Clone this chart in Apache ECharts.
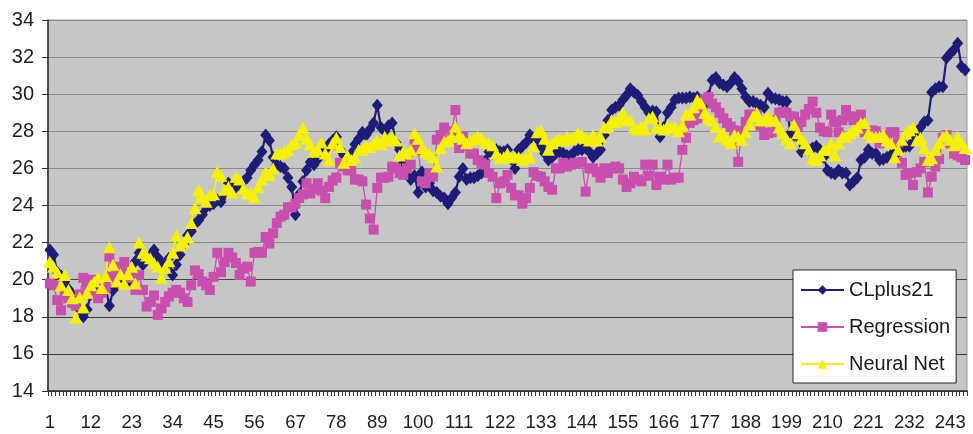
<!DOCTYPE html>
<html>
<head>
<meta charset="utf-8">
<style>
  html, body { margin: 0; padding: 0; background: #ffffff; }
  #chart { width: 973px; height: 434px; }
</style>
<script src="https://cdn.jsdelivr.net/npm/echarts@6/dist/echarts.min.js"></script>
</head>
<body>
<div id="chart"></div>
<script>
// Observation index 1..247 on the category axis
const pointCount = 247;
const categories = Array.from({ length: pointCount }, (_, k) => String(k + 1));

const seriesNames = ['CLplus21', 'Regression', 'Neural Net'];

const clplus21 = [
  21.6, 21.35, 20.4, 20.2, 19.9, 19.5, 19.2, 18.8, 18.4, 18.0,
  18.4, 19.2, 19.4, 19.6, 19.8, 19.6, 18.6, 19.45, 19.7, 20.0,
  20.1, 19.9, 20.4, 21.0, 21.45, 20.8, 21.1, 21.3, 21.6, 21.2,
  20.95, 20.7, 21.15, 20.25, 20.8, 21.35, 21.9, 22.4, 22.6, 23.0,
  23.2, 23.5, 23.9, 24.0, 24.1, 24.3, 24.2, 24.6, 25.2, 24.9,
  25.0, 25.1, 25.3, 25.5, 25.9, 26.2, 26.45, 26.9, 27.8, 27.5,
  26.6, 26.2, 26.1, 26.0, 25.5, 25.0, 23.5, 24.6, 25.3, 25.9,
  26.35, 26.2, 26.5, 26.9, 27.0, 27.3, 27.5, 27.7, 27.0, 26.7,
  26.6, 26.8, 27.3, 27.6, 27.95, 27.8, 28.1, 28.45, 29.4, 28.2,
  28.0, 28.3, 28.45, 27.4, 27.0, 26.3, 25.8, 25.4, 25.6, 24.7,
  25.8, 25.0, 25.2, 24.8, 24.7, 24.5, 24.4, 24.1, 24.4, 24.7,
  25.55, 26.0, 25.4, 25.5, 25.5, 25.6, 25.75, 26.4, 26.9, 26.8,
  27.0, 26.9, 26.9, 27.0, 26.5, 26.0, 27.0, 27.2, 27.4, 27.8,
  27.6, 27.6, 27.2, 26.8, 26.45, 26.6, 26.8, 26.9, 26.8, 26.7,
  26.7, 26.9, 27.0, 27.0, 27.1, 26.9, 26.6, 26.8, 27.0, 27.8,
  28.6, 29.15, 29.3, 29.4, 29.7, 29.95, 30.3, 30.1, 29.95, 29.6,
  29.3, 29.0, 29.1, 29.05, 27.7, 28.2, 29.0, 29.3, 29.7, 29.8,
  29.8, 29.8, 29.85, 29.8, 29.85, 29.5, 29.4, 29.9, 30.75, 30.9,
  30.6, 30.5, 30.4, 30.6, 30.9, 30.7, 30.3, 29.85, 29.6, 29.6,
  29.5, 29.4, 29.3, 30.05, 29.8, 29.75, 29.7, 29.6, 29.6, 27.9,
  27.8, 27.7, 26.9, 27.0, 27.0, 27.1, 27.2, 27.0, 26.6, 25.9,
  25.75, 25.7, 25.9, 25.75, 25.75, 25.1, 25.3, 25.5, 26.45, 26.6,
  27.0, 26.8, 26.8, 26.45, 26.5, 26.6, 26.7, 26.8, 26.9, 27.1,
  27.2, 27.2, 27.45, 27.9, 28.2, 28.5, 28.6, 30.1, 30.3, 30.4,
  30.4, 31.95, 32.2, 32.4, 32.75, 31.5, 31.3
];

const regression = [
  19.8, 19.7, 18.9, 18.35, 19.2, 19.0, 18.75, 18.6, 19.2, 20.1,
  19.7, 20.0, 19.2, 19.0, 19.3, 19.6, 21.25, 20.15, 20.7, 20.6,
  20.95, 20.3, 20.1, 19.45, 20.25, 19.45, 18.55, 18.8, 19.15, 18.1,
  18.45, 18.8, 19.1, 19.3, 19.45, 19.3, 19.0, 18.8, 19.7, 20.5,
  20.3, 19.9, 19.7, 19.45, 20.15, 21.45, 20.4, 20.95, 21.45, 21.2,
  20.9, 20.25, 20.6, 20.7, 19.9, 21.45, 21.5, 21.45, 22.3, 21.95,
  22.5, 23.05, 23.4, 23.5, 23.9, 23.9, 24.1, 24.4, 24.6, 25.2,
  24.65, 24.9, 25.2, 24.8, 24.4, 25.0, 25.35, 25.5, 26.3, 26.1,
  25.9, 25.9, 25.4, 25.4, 25.3, 24.05, 23.3, 22.7, 24.95, 25.5,
  25.5, 25.55, 26.1, 26.0, 25.75, 25.65, 26.0, 26.2, 27.4, 27.0,
  25.3, 25.2, 25.75, 25.55, 27.55, 27.8, 28.2, 27.5, 28.0, 29.15,
  27.1, 27.7, 27.2, 26.8, 26.8, 26.45, 26.3, 26.2, 25.75, 25.55,
  24.4, 25.2, 25.3, 25.65, 24.95, 24.55, 24.55, 24.1, 24.4, 24.95,
  25.8, 25.6, 25.55, 25.3, 25.0, 24.85, 26.0, 26.0, 26.3, 26.1,
  26.2, 26.3, 26.3, 26.35, 24.75, 26.0, 26.0, 25.8, 25.5, 26.0,
  25.75, 26.0, 26.1, 26.0, 25.4, 25.0, 25.2, 25.55, 25.4, 25.3,
  26.2, 25.6, 26.2, 25.1, 25.55, 25.4, 26.2, 25.4, 25.5, 25.5,
  27.0, 27.65, 28.45, 28.6, 28.7, 29.2, 29.7, 29.85, 29.5, 29.3,
  29.0, 28.7, 28.45, 28.25, 28.05, 26.35, 28.0, 28.5, 28.9, 28.9,
  28.9, 28.3, 27.8, 27.9, 27.95, 28.6, 29.0, 29.05, 29.0, 28.8,
  28.8, 28.25, 28.5, 28.9, 29.2, 29.6, 29.0, 28.2, 28.0, 27.95,
  28.9, 28.5, 27.95, 28.6, 29.15, 28.8, 28.6, 28.8, 28.9, 27.95,
  27.9, 28.05, 28.0, 27.35, 27.6, 27.7, 27.95, 27.95, 27.4, 26.3,
  25.65, 25.75, 25.1, 25.8, 26.0, 26.35, 24.7, 25.55, 26.1, 26.5,
  27.65, 27.8, 27.35, 26.8, 26.7, 26.6, 26.45
];

const neuralNet = [
  20.95, 20.7, 20.4, 19.7, 20.25, 19.45, 19.0, 17.95, 19.05, 18.5,
  19.3, 19.7, 19.9, 20.1, 19.55, 20.2, 21.75, 20.8, 19.9, 20.3,
  19.8, 20.3, 20.7, 19.8, 22.0, 21.45, 21.3, 21.15, 20.9, 20.7,
  20.1, 20.65, 21.0, 21.45, 22.4, 21.85, 22.0, 22.3, 23.05, 23.85,
  24.85, 24.45, 24.2, 24.55, 24.6, 25.8, 25.6, 24.85, 25.0, 24.7,
  25.55, 25.4, 24.9, 24.65, 24.7, 24.45, 25.0, 25.4, 25.8, 25.65,
  26.0, 26.8, 26.8, 26.9, 27.0, 27.3, 27.4, 27.8, 28.2, 27.6,
  27.3, 26.9, 27.0, 27.4, 26.8, 26.45, 27.35, 27.65, 27.15, 26.3,
  26.7, 26.45, 26.6, 27.0, 27.0, 27.25, 27.15, 27.35, 27.5, 27.3,
  27.7, 27.5, 27.7, 27.5, 26.7, 26.9, 26.8, 27.0, 27.9, 27.6,
  27.1, 26.9, 26.8, 26.6, 26.1, 27.1, 27.45, 27.5, 27.7, 28.25,
  27.8, 27.6, 27.35, 27.5, 27.6, 27.7, 27.65, 27.4, 27.35, 27.25,
  26.8, 26.55, 26.6, 26.8, 26.6, 26.6, 26.6, 26.45, 26.6, 26.6,
  27.2, 27.95, 28.05, 27.6, 27.0, 27.35, 27.5, 27.6, 27.5, 27.7,
  27.6, 27.7, 27.9, 27.8, 27.65, 27.5, 27.8, 27.5, 27.7, 28.2,
  28.25, 28.6, 28.5, 28.7, 29.0, 28.6, 28.6, 28.2, 28.1, 28.25,
  28.1, 28.7, 28.8, 28.2, 28.2, 28.1, 28.3, 28.2, 28.25, 28.0,
  28.3, 28.9, 28.9, 29.3, 29.7, 29.5, 29.0, 28.7, 28.6, 28.25,
  27.7, 27.9, 27.55, 27.35, 27.8, 27.7, 27.55, 27.95, 28.4, 28.8,
  29.0, 28.6, 28.6, 28.8, 28.6, 28.6, 28.2, 27.9, 27.6, 27.35,
  28.35, 27.9, 27.6, 27.35, 27.0, 26.55, 26.45, 26.7, 27.0, 27.0,
  27.35, 26.7, 27.35, 27.7, 27.7, 27.9, 28.05, 28.2, 28.45, 28.45,
  27.9, 27.7, 27.7, 27.7, 27.8, 27.5, 27.35, 26.6, 27.0, 27.55,
  27.9, 28.05, 28.2, 27.5, 27.65, 27.1, 26.45, 26.55, 27.0, 27.35,
  27.7, 27.8, 27.55, 27.25, 27.7, 27.4, 27.1
];

// Value axis range and tick step
const yMin = 14;
const yMax = 34;
const yStep = 2;

const textFont = '"Liberation Sans", Arial, sans-serif';

const chart = echarts.init(document.getElementById('chart'), null, { renderer: 'canvas' });

chart.setOption({
  animation: false,
  backgroundColor: '#ffffff',
  grid: {
    left: 48, right: 6, top: 20, bottom: 43,
    show: true,
    backgroundColor: '#c6c6c6',
    borderColor: '#9a9a9a',
    borderWidth: 1
  },
  legend: {
    orient: 'vertical',
    left: 793,
    top: 270,
    padding: [10, 6, 9, 7],
    itemGap: 17,
    itemWidth: 43,
    itemHeight: 12,
    backgroundColor: '#ffffff',
    borderColor: '#222222',
    borderWidth: 1,
    borderRadius: 0,
    textStyle: { fontFamily: textFont, fontSize: 20, color: '#1a1a1a' },
    data: seriesNames
  },
  xAxis: {
    type: 'category',
    data: categories,
    boundaryGap: true,
    axisLine: { show: true, lineStyle: { color: '#2a2a2a', width: 1.5 } },
    axisTick: { show: true, interval: 0, length: 5, lineStyle: { color: '#333333', width: 1 } },
    axisLabel: {
      interval: 10,
      margin: 22,
      fontFamily: textFont,
      fontSize: 18.5,
      color: '#1e1e1e'
    },
    splitLine: { show: false }
  },
  yAxis: {
    type: 'value',
    min: yMin,
    max: yMax,
    interval: yStep,
    axisLine: { show: true, lineStyle: { color: '#2a2a2a', width: 1.5 } },
    axisTick: { show: true, length: 6, lineStyle: { color: '#333333' } },
    axisLabel: {
      margin: 14,
      fontFamily: textFont,
      fontSize: 20,
      color: '#1e1e1e'
    },
    splitLine: {
      show: true,
      lineStyle: {
        color: ['#3a3a3a', '#3a3a3a', '#3a3a3a', '#444444', '#8a8a8a', '#8a8a8a',
                '#8a8a8a', '#8a8a8a', '#8a8a8a', '#8a8a8a', '#8a8a8a'],
        width: 1.2
      }
    }
  },
  series: [
    {
      name: seriesNames[0],
      type: 'line',
      data: clplus21,
      symbol: 'diamond',
      symbolSize: [11, 13],
      showAllSymbol: true,
      color: '#1d1d78',
      lineStyle: { color: '#1d1d78', width: 2.2 },
      itemStyle: { color: '#1d1d78' }
    },
    {
      name: seriesNames[1],
      type: 'line',
      data: regression,
      symbol: 'rect',
      symbolSize: 10,
      showAllSymbol: true,
      color: '#c84fae',
      lineStyle: { color: '#c84fae', width: 1.3 },
      itemStyle: { color: '#c84fae' }
    },
    {
      name: seriesNames[2],
      type: 'line',
      data: neuralNet,
      symbol: 'triangle',
      symbolSize: [13, 12],
      showAllSymbol: true,
      color: '#f5f100',
      lineStyle: { color: '#f5f100', width: 1.8 },
      itemStyle: { color: '#f5f100' }
    }
  ]
});
</script>
</body>
</html>
